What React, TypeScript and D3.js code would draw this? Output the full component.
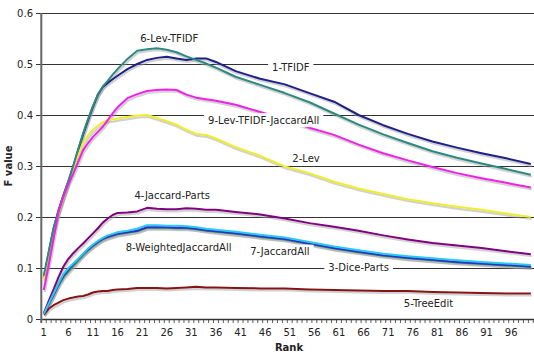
import React, { useEffect, useRef } from 'react';
import * as d3 from 'd3';

// Rank positions at which values were read
const ranks = [1, 2, 3, 4, 5, 6, 7, 8, 9, 10, 11, 12, 13, 14, 15, 16, 18, 20, 22, 24, 26, 28, 30, 32, 34, 36, 40, 45, 50, 55, 60, 65, 70, 75, 80, 85, 90, 95, 100];

const tfidf1 = [0.08, 0.13, 0.178, 0.213, 0.243, 0.27, 0.3, 0.332, 0.362, 0.39, 0.416, 0.44, 0.455, 0.463, 0.47, 0.477, 0.49, 0.5, 0.508, 0.512, 0.514, 0.511, 0.508, 0.511, 0.511, 0.504, 0.486, 0.471, 0.46, 0.443, 0.426, 0.4, 0.38, 0.363, 0.348, 0.336, 0.325, 0.315, 0.304];
const lev2 = [0.078, 0.128, 0.173, 0.208, 0.238, 0.268, 0.295, 0.322, 0.345, 0.36, 0.371, 0.379, 0.386, 0.39, 0.391, 0.393, 0.396, 0.399, 0.4, 0.394, 0.388, 0.381, 0.371, 0.363, 0.361, 0.354, 0.337, 0.32, 0.299, 0.286, 0.269, 0.256, 0.245, 0.235, 0.227, 0.22, 0.214, 0.207, 0.2];
const diceParts3 = [0.01, 0.029, 0.047, 0.066, 0.082, 0.093, 0.104, 0.115, 0.126, 0.135, 0.143, 0.15, 0.156, 0.16, 0.163, 0.166, 0.169, 0.172, 0.179, 0.179, 0.179, 0.178, 0.178, 0.176, 0.173, 0.171, 0.167, 0.161, 0.156, 0.147, 0.138, 0.131, 0.124, 0.119, 0.115, 0.111, 0.108, 0.105, 0.102];
const jaccardParts4 = [0.011, 0.035, 0.058, 0.082, 0.103, 0.118, 0.129, 0.139, 0.148, 0.158, 0.168, 0.178, 0.189, 0.197, 0.204, 0.208, 0.209, 0.211, 0.218, 0.216, 0.215, 0.215, 0.217, 0.216, 0.214, 0.214, 0.21, 0.205, 0.197, 0.188, 0.181, 0.173, 0.164, 0.156, 0.149, 0.144, 0.139, 0.133, 0.127];
const treeEdit5 = [0.009, 0.02, 0.027, 0.032, 0.037, 0.04, 0.042, 0.044, 0.045, 0.048, 0.052, 0.054, 0.055, 0.055, 0.057, 0.058, 0.059, 0.061, 0.061, 0.061, 0.06, 0.061, 0.062, 0.063, 0.062, 0.062, 0.061, 0.06, 0.06, 0.058, 0.057, 0.056, 0.055, 0.055, 0.053, 0.052, 0.051, 0.05, 0.05];
const levTfidf6 = [0.085, 0.132, 0.178, 0.212, 0.242, 0.27, 0.3, 0.333, 0.364, 0.392, 0.418, 0.44, 0.456, 0.467, 0.479, 0.49, 0.51, 0.526, 0.529, 0.531, 0.528, 0.523, 0.515, 0.508, 0.501, 0.493, 0.475, 0.459, 0.443, 0.425, 0.403, 0.381, 0.362, 0.345, 0.329, 0.316, 0.305, 0.294, 0.283];
const jaccardAll7 = [0.01, 0.029, 0.048, 0.068, 0.085, 0.097, 0.107, 0.117, 0.127, 0.136, 0.144, 0.151, 0.157, 0.161, 0.164, 0.167, 0.17, 0.173, 0.18, 0.18, 0.18, 0.179, 0.179, 0.177, 0.174, 0.172, 0.168, 0.162, 0.157, 0.148, 0.139, 0.132, 0.125, 0.12, 0.116, 0.112, 0.109, 0.106, 0.103];
const weightedJaccardAll8 = [0.01, 0.03, 0.05, 0.07, 0.088, 0.1, 0.109, 0.118, 0.128, 0.138, 0.146, 0.153, 0.159, 0.164, 0.167, 0.17, 0.173, 0.177, 0.184, 0.184, 0.183, 0.183, 0.182, 0.18, 0.177, 0.175, 0.171, 0.165, 0.16, 0.151, 0.142, 0.135, 0.128, 0.123, 0.119, 0.115, 0.112, 0.109, 0.106];
const levTfidfJaccardAll9 = [0.057, 0.105, 0.158, 0.21, 0.24, 0.265, 0.285, 0.308, 0.331, 0.345, 0.357, 0.367, 0.377, 0.39, 0.403, 0.415, 0.433, 0.441, 0.447, 0.449, 0.45, 0.449, 0.44, 0.434, 0.431, 0.428, 0.42, 0.406, 0.392, 0.375, 0.361, 0.342, 0.325, 0.311, 0.298, 0.286, 0.276, 0.267, 0.258];

const seriesNames = ['1-TFIDF', '2-Lev', '3-Dice-Parts', '4-Jaccard-Parts', '5-TreeEdit', '6-Lev-TFIDF', '7-JaccardAll', '8-WeightedJaccardAll', '9-Lev-TFIDF-JaccardAll'];
const seriesValues = [tfidf1, lev2, diceParts3, jaccardParts4, treeEdit5, levTfidf6, jaccardAll7, weightedJaccardAll8, levTfidfJaccardAll9];
const seriesColors = ['#1f1f8a', '#f0ee2a', '#3a9a5a', '#800080', '#861414', '#2a8a80', '#2830d0', '#28c8f0', '#f020e8'];

const yTicks = [0, 0.1, 0.2, 0.3, 0.4, 0.5, 0.6];
const xTickLabels = [1, 6, 11, 16, 21, 26, 31, 36, 41, 46, 51, 56, 61, 66, 71, 76, 81, 86, 91, 96];
const categoryCount = 100;

// Label anchors in data units (rank, value)
const labelNames = ['6-Lev-TFIDF', '1-TFIDF', '9-Lev-TFIDF-JaccardAll', '2-Lev', '4-Jaccard-Parts', '8-WeightedJaccardAll', '7-JaccardAll', '3-Dice-Parts', '5-TreeEdit'];
const labelRanks = [26.5, 51.2, 45.7, 54.3, 27.1, 28.4, 49.0, 65.0, 79.2];
const labelValues = [0.551, 0.494, 0.39, 0.315, 0.243, 0.141, 0.132, 0.1006, 0.031];

const FONT = "'DejaVu Sans', Verdana, sans-serif";

export default function App() {
  const ref = useRef<SVGSVGElement>(null);

  useEffect(() => {
    const svg = d3.select(ref.current);
    svg.selectAll('*').remove();

    const left = 41.3, right = 533.3, top = 13, bottom = 319;
    const x = d3.scaleLinear().domain([0.5, categoryCount + 0.5]).range([left, right]);
    const y = d3.scaleLinear().domain([0, 0.6]).range([bottom, top]);

    svg.append('rect').attr('width', 534).attr('height', 354).attr('fill', '#fff');

    // gridlines
    svg.append('g').selectAll('line').data(yTicks.filter(t => t > 0)).join('line')
      .attr('x1', left).attr('x2', 534)
      .attr('y1', d => Math.round(y(d)) + 0.5).attr('y2', d => Math.round(y(d)) + 0.5)
      .attr('stroke', '#333').attr('stroke-width', 1);

    // y tick marks & labels
    svg.append('g').selectAll('line').data(yTicks).join('line')
      .attr('x1', 36).attr('x2', left)
      .attr('y1', d => Math.round(y(d)) + 0.5).attr('y2', d => Math.round(y(d)) + 0.5)
      .attr('stroke', '#333');
    svg.append('g').selectAll('text').data(yTicks).join('text')
      .attr('x', 33).attr('y', d => y(d)).attr('dy', '0.36em')
      .attr('text-anchor', 'end')
      .attr('font-family', FONT).attr('font-size', 10).attr('fill', '#222')
      .text(d => (d === 0 ? '0' : d3.format('.1f')(d)));

    // x minor ticks at each category boundary
    svg.append('g').selectAll('line').data(d3.range(0, categoryCount + 1)).join('line')
      .attr('x1', d => x(d + 0.5)).attr('x2', d => x(d + 0.5))
      .attr('y1', bottom).attr('y2', bottom + 4)
      .attr('stroke', '#333').attr('stroke-width', 0.8);
    svg.append('g').selectAll('text').data(xTickLabels).join('text')
      .attr('x', d => x(d)).attr('y', 335.5)
      .attr('text-anchor', 'middle')
      .attr('font-family', FONT).attr('font-size', 10).attr('fill', '#222')
      .text(d => String(d));

    // axes lines
    svg.append('line').attr('x1', left).attr('x2', 534).attr('y1', bottom + 0.5).attr('y2', bottom + 0.5)
      .attr('stroke', '#333').attr('stroke-width', 1.5);
    svg.append('line').attr('x1', left).attr('x2', left).attr('y1', top).attr('y2', bottom + 4)
      .attr('stroke', '#666').attr('stroke-width', 2);

    // series
    const line = d3.line<number>()
      .x((_, i) => x(ranks[i]))
      .y(d => y(d));

    const shadows = svg.append('g').attr('transform', 'translate(1,2)');
    seriesValues.forEach(vals => {
      shadows.append('path').attr('d', line(vals) as string)
        .attr('fill', 'none').attr('stroke', '#9a9a9a').attr('stroke-opacity', 0.45)
        .attr('stroke-width', 2.2).attr('stroke-linejoin', 'round');
    });
    const lines = svg.append('g');
    seriesValues.forEach((vals, i) => {
      lines.append('path').attr('d', line(vals) as string)
        .attr('fill', 'none').attr('stroke', seriesColors[i])
        .attr('stroke-width', 2).attr('stroke-linejoin', 'round');
    });

    // labels with white boxes
    const lg = svg.append('g');
    labelNames.forEach((name, i) => {
      const cx = x(labelRanks[i]);
      const cy = y(labelValues[i]);
      const gg = lg.append('g');
      const rect = gg.append('rect').attr('fill', '#fff');
      const t = gg.append('text')
        .attr('x', cx).attr('y', cy).attr('dy', '0.36em')
        .attr('text-anchor', 'middle')
        .attr('font-family', FONT).attr('font-size', 10).attr('fill', '#222')
        .text(name);
      const w = (t.node() as SVGTextElement).getComputedTextLength();
      rect.attr('x', cx - w / 2 - 4).attr('y', cy - 7).attr('width', w + 8).attr('height', 14);
    });

    // axis titles
    svg.append('text')
      .attr('transform', 'translate(12,166) rotate(-90)')
      .attr('text-anchor', 'middle')
      .attr('font-family', FONT).attr('font-size', 10).attr('font-weight', 'bold').attr('fill', '#222')
      .text('F value');
    svg.append('text')
      .attr('x', 289).attr('y', 351)
      .attr('text-anchor', 'middle')
      .attr('font-family', FONT).attr('font-size', 10).attr('font-weight', 'bold').attr('fill', '#222')
      .text('Rank');
  }, []);

  return (
    <svg ref={ref} width={534} height={354} style={{ position: 'absolute', left: 0, top: 0, display: 'block' }} />
  );
}
